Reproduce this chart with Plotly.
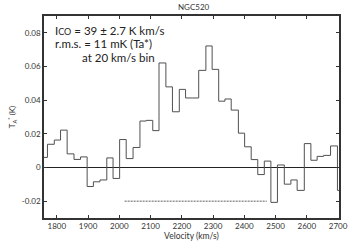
import plotly.graph_objects as go

# Bin edges (km/s)
edges = [1759, 1770, 1792, 1812, 1833, 1855, 1876, 1897, 1917, 1938, 1960, 1980,
         2001, 2022, 2044, 2066, 2086, 2107, 2127, 2149, 2170, 2192, 2212, 2233,
         2254, 2277, 2297, 2318, 2338, 2358, 2381, 2401, 2422, 2443, 2464, 2485,
         2506, 2528, 2549, 2569, 2592, 2613, 2633, 2654, 2676, 2698, 2703]
# Antenna temperature per bin (K)
temps = [0.0060, 0.0138, 0.0163, 0.0222, 0.0081, 0.0048, 0.0063, -0.0113, -0.0085, -0.0074,
         0.0057, -0.0065, 0.0166, 0.0053, 0.0119, 0.0276, 0.0280, 0.0219, 0.0621, 0.0479,
         0.0331, 0.0464, 0.0413, 0.0413, 0.0577, 0.0722, 0.0583, 0.0394, 0.0407, 0.0341,
         0.0204, 0.0123, 0.0047, -0.0042, 0.0038, -0.0207, 0.0015, -0.0099, -0.0074, -0.0136,
         0.0142, 0.0043, 0.0066, 0.0072, 0.0128, -0.0136]
# Integration range marker
range_v = [2017, 2472]
range_t = [-0.02, -0.02]

xticks = [1800, 1900, 2000, 2100, 2200, 2300, 2400, 2500, 2600, 2700]
yticks = [-0.02, 0, 0.02, 0.04, 0.06, 0.08]
ylabels = ["-0.02", "0", "0.02", "0.04", "0.06", "0.08"]

font = "Lato"

fig = go.Figure()
fig.add_trace(go.Scatter(
    x=edges, y=temps + [temps[-1]], mode="lines", line_shape="hv",
    line=dict(color="#505050", width=1), hoverinfo="skip", showlegend=False))
fig.add_trace(go.Scatter(
    x=range_v, y=range_t, mode="lines",
    line=dict(color="#333333", width=0.8, dash="2px,1px"),
    hoverinfo="skip", showlegend=False))

fig.update_layout(
    width=359, height=249,
    margin=dict(l=39, r=11, t=16, b=23),
    paper_bgcolor="white", plot_bgcolor="white",
    font=dict(family=font, size=8, color="#333333"),
    xaxis=dict(range=[1759, 2703], tickvals=xticks, ticks="inside", ticklen=3,
               tickcolor="#333333", showline=True, linecolor="#333333", linewidth=1.5,
               mirror="ticks", showgrid=False, zeroline=False,
               tickfont=dict(size=8),
               title=dict(text="Velocity (km/s)", standoff=1, font=dict(size=8.5))),
    yaxis=dict(range=[-0.03, 0.09], tickvals=yticks, ticktext=ylabels, ticks="inside",
               ticklen=3, tickcolor="#333333", showline=True, linecolor="#333333",
               linewidth=1.5, mirror="ticks", showgrid=False,
               zeroline=True, zerolinecolor="#222222", zerolinewidth=1,
               tickfont=dict(size=8),
               title=dict(text="T<sub>A</sub><sup>*</sup> (K)", standoff=5,
                          font=dict(size=8))),
)

fig.add_annotation(text="NGC520", xref="paper", yref="paper", x=0.51, y=1,
                   yanchor="bottom", yshift=2, showarrow=False,
                   font=dict(size=8, color="#333333"))

lines = ["I<span style='font-size:9px'>CO</span> = 39 ± 2.7 K km/s",
         "r.m.s. = 11 mK (Ta*)",
         "at 20 km/s bin"]
line_x = [0.030, 0.030, 0.122]
line_y = [0.928, 0.865, 0.793]
for t, lx, ly in zip(lines, line_x, line_y):
    fig.add_annotation(text=t, xref="paper", yref="paper", x=lx, y=ly,
                       xanchor="left", yanchor="middle", showarrow=False,
                       font=dict(size=11.5, color="#222222"))

fig.write_html("out.html", config={"displayModeBar": False},
               post_script="document.body.style.margin='0';document.body.style.overflow='hidden';")
